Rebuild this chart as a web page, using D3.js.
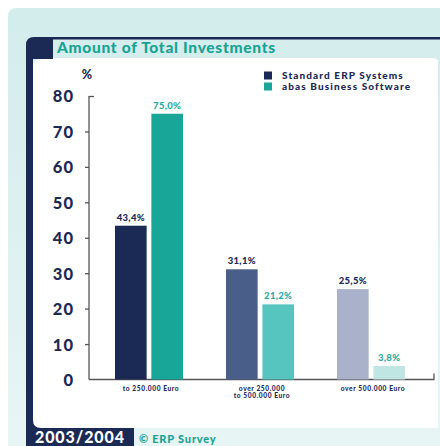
<!DOCTYPE html>
<html><head><meta charset="utf-8">
<script src="https://cdn.jsdelivr.net/npm/d3@7"></script>
<style>html,body{margin:0;padding:0;background:#fff;}svg{display:block;}</style>
</head><body>
<script>
const categories = ["to 250.000 Euro", "over 250.000|to 500.000 Euro", "over 500.000 Euro"];
const seriesNames = ["Standard ERP Systems", "abas Business Software"];
const standardValues = [43.4, 31.1, 25.5];
const abasValues = [75.0, 21.2, 3.8];
const yTicks = [0, 10, 20, 30, 40, 50, 60, 70, 80];
const title = "Amount of Total Investments";
const footerYear = "2003/2004";
const footerSource = "© ERP Survey";

const navyShades = ["#1b2955", "#4a5e8a", "#a9b1cb"];
const tealShades = ["#17a698", "#56c5c0", "#c0e6e3"];
const navy = "#1b2955", teal = "#17a394";
const font = "Lato, 'DejaVu Sans', sans-serif";

const W = 440, H = 446;
const svg = d3.select("body").append("svg").attr("width", W).attr("height", H);

// background panel
const defs = svg.append("defs");
const g1 = defs.append("linearGradient").attr("id","bg").attr("x1","0").attr("x2","0").attr("y1","0").attr("y2","1");
g1.append("stop").attr("offset","0").attr("stop-color","#d3ecec");
g1.append("stop").attr("offset","1").attr("stop-color","#e8f5f5");
svg.append("rect").attr("x",8).attr("y",8).attr("width",W).attr("height",H).attr("rx",8).attr("fill","url(#bg)");

// navy frame
svg.append("path").attr("fill", navy).attr("d",
  "M26,446 L26,45 Q26,37 34,37 L440,37 L440,39.5 L53,39.5 L53,59 L33,59 L33,446 Z");
// white panel
svg.append("path").attr("fill","#fff").attr("d",
  "M33,428 L33,66 Q33,59 40,59 L53,59 L53,58 L433,58 Q438,58 438,63 L438,428 Z");
svg.append("path").attr("fill", navy).attr("d",
  "M33,420 Q33,428 41,428 L134,428 L134,446 L33,446 Z");

svg.append("text").attr("x",57).attr("y",53).attr("fill",teal)
  .attr("font-family",font).attr("font-weight",900).attr("font-size",15.5).attr("letter-spacing",0.7).text(title);

// scales
const y = d3.scaleLinear().domain([0, 80]).range([379.5, 96]);
const x = d3.scaleBand().domain(categories).range([93.5, 426.5]);
const xs = d3.scaleBand().domain(seriesNames).range([21.5, 89.5]).paddingInner(0.13);

// y axis
const yAxis = svg.append("g").attr("transform","translate(89,0)")
  .call(d3.axisLeft(y).tickValues(yTicks).tickSize(4).tickPadding(11).tickFormat(d3.format("d")));
yAxis.select(".domain").attr("stroke","#555").attr("stroke-width",1.3).attr("d", `M0,${y(80)}V${y(0)}`);
yAxis.selectAll(".tick line").attr("stroke","#555").attr("stroke-width",1.3)
  .filter(d => d === 80).attr("x2", 5);
yAxis.selectAll(".tick line").filter(d => d === 0).remove();
yAxis.selectAll(".tick text").attr("fill",navy).attr("font-family",font)
  .attr("font-weight",900).attr("font-size",16.5).attr("letter-spacing",1).attr("dy","0.36em");
svg.append("text").attr("x",87).attr("y",79).attr("text-anchor","middle").attr("fill",navy)
  .attr("font-family",font).attr("font-weight",900).attr("font-size",12.5).text("%");

// x baseline
svg.append("path").attr("fill","none").attr("stroke","#555").attr("stroke-width",1.3)
  .attr("d", `M89,${y(0)}H434V${y(0)-6}`);

// bars
const rows = categories.map((c, i) => ({c, i, vals: [standardValues[i], abasValues[i]]}));
const groups = svg.selectAll("g.grp").data(rows).join("g").attr("class","grp")
  .attr("transform", d => `translate(${x(d.c)},0)`);
groups.selectAll("rect").data(d => d.vals.map((v, k) => ({v, k, i: d.i}))).join("rect")
  .attr("x", d => xs(seriesNames[d.k])).attr("width", xs.bandwidth())
  .attr("y", d => y(d.v)).attr("height", d => y(0) - y(d.v))
  .attr("fill", d => d.k === 0 ? navyShades[d.i] : tealShades[d.i]);
const fmt = v => d3.format(".1f")(v).replace(".", ",") + "%";
groups.selectAll("text.val").data(d => d.vals.map((v, k) => ({v, k, i: d.i}))).join("text")
  .attr("class","val")
  .attr("x", d => xs(seriesNames[d.k]) + xs.bandwidth()/2).attr("y", d => y(d.v) - 5)
  .attr("text-anchor","middle").attr("fill", d => d.k === 0 ? navy : "#2aaca2")
  .attr("font-family",font).attr("font-weight",900).attr("font-size",9.5).attr("letter-spacing",0.3).text(d => fmt(d.v));

// category labels
groups.each(function(d) {
  const t = d3.select(this).append("text").attr("text-anchor","middle").attr("fill",navy)
    .attr("font-family",font).attr("font-weight",900).attr("font-size",6.6).attr("letter-spacing",0.6)
    .attr("x", x.bandwidth()/2 + 2).attr("y", 391);
  d.c.split("|").forEach((line, j) => t.append("tspan").attr("x", x.bandwidth()/2 + 2).attr("dy", j ? 6.5 : 0).text(line));
});

// legend
const lg = svg.append("g");
seriesNames.forEach((s, k) => {
  lg.append("rect").attr("x",264).attr("y",71.5 + k*11).attr("width",8).attr("height",8)
    .attr("fill", k === 0 ? navy : "#17a698");
  lg.append("text").attr("x",282).attr("y",79 + k*11).attr("fill",navy)
    .attr("font-family",font).attr("font-weight",900).attr("font-size",10).attr("letter-spacing",1.1).text(s);
});

// footer
svg.append("text").attr("x",35).attr("y",443).attr("fill","#fff").attr("font-family",font)
  .attr("font-weight",900).attr("font-size",16).attr("letter-spacing",0.9).text(footerYear);
svg.append("text").attr("x",139).attr("y",443).attr("fill",teal).attr("font-family",font)
  .attr("font-weight",900).attr("font-size",11).attr("letter-spacing",0.8).text(footerSource);
</script>
</body></html>
